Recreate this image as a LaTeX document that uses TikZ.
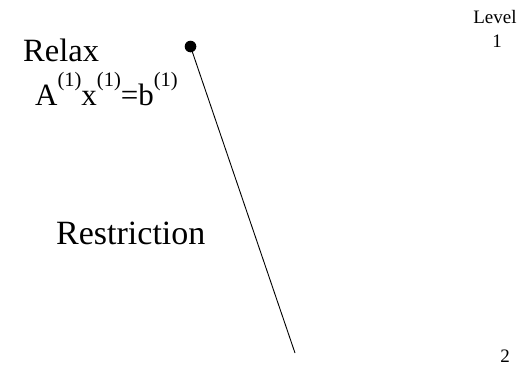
\documentclass[tikz,border=0pt]{standalone}
\usepackage{fontspec}
\setmainfont{Liberation Serif}
\begin{document}
\begin{tikzpicture}[x=1pt,y=-1pt,
  big/.style={inner sep=0pt,anchor=base west,font=\fontsize{32.5}{38}\selectfont},
  bigger/.style={inner sep=0pt,anchor=base west,font=\fontsize{34}{40}\selectfont},
  eq/.style={inner sep=0pt,anchor=base west,font=\fontsize{31}{36}\selectfont},
  small/.style={inner sep=0pt,anchor=base,font=\fontsize{19}{22}\selectfont}]
\newcommand{\mysup}{\raisebox{19pt}{\fontsize{20.5}{22}\selectfont(1)}}
\useasboundingbox (0,0) rectangle (524,367);
\node[big] (relax) at (23,61) {Relax};
\node[eq] (eqn) at (35,105) {A\mysup x\mysup=b\mysup};
\node[bigger] (restr) at (56,244) {Restriction};
\node[small] (level) at (495,23) {Level};
\node[small] (l1) at (497,47) {1};
\node[small] (l2) at (505,362) {2};
\coordinate (top) at (190.5,46.5);
\coordinate (bot) at (295,353);
\fill (top) circle (5.8);
\draw[line width=0.9pt] (top) -- (bot);
\end{tikzpicture}
\end{document}
